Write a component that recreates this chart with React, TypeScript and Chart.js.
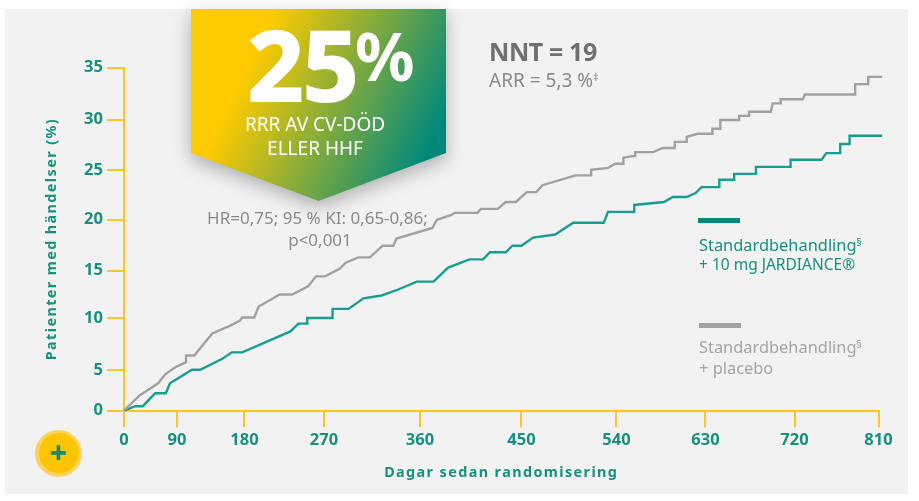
import React, { useEffect, useRef } from "react";
import { Chart, LinearScale, LineController, LineElement, PointElement } from "chart.js";

const xTicks = [0, 90, 180, 270, 360, 450, 540, 630, 720, 810];
const yTicks = [0, 5, 10, 15, 20, 25, 30, 35];

const jardianceDays = [0, 19, 32, 53, 71, 78, 110, 121, 151, 163, 177, 232, 241, 251, 251, 278, 278, 293, 307, 324, 339, 357, 372, 385, 404, 416, 422, 436, 442, 450, 461, 482, 499, 528, 532, 558, 558, 588, 597, 611, 620, 626, 644, 644, 659, 659, 681, 681, 716, 716, 749, 754, 769, 769, 779, 779, 814];
const jardianceValues = [0, 0.55, 0.55, 2.13, 2.13, 3.35, 5, 5, 6.1, 6.7, 6.7, 8.74, 9.5, 9.5, 10.05, 10.05, 11, 11, 12.1, 12.4, 13, 13.85, 13.85, 15.3, 16.1, 16.1, 16.8, 16.8, 17.45, 17.45, 18.25, 18.55, 19.7, 19.7, 20.8, 20.8, 21.5, 21.8, 22.3, 22.3, 22.7, 23.3, 23.3, 24.05, 24.05, 24.65, 24.65, 25.35, 25.35, 26.05, 26.05, 26.7, 26.7, 27.6, 27.6, 28.4, 28.4];

const placeboDays = [0, 27, 58, 70, 87, 102, 102, 113, 137, 161, 174, 177, 191, 196, 220, 234, 252, 261, 271, 285, 290, 302, 313, 325, 335, 338, 371, 375, 388, 391, 411, 414, 429, 436, 445, 455, 464, 470, 501, 516, 516, 532, 539, 547, 547, 559, 559, 577, 587, 599, 599, 611, 611, 622, 637, 637, 645, 645, 664, 664, 674, 674, 696, 698, 706, 706, 729, 731, 785, 785, 799, 799, 814];
const placeboValues = [0, 1.89, 3.35, 4.45, 5.25, 5.75, 6.4, 6.4, 8.55, 9.3, 9.8, 10.1, 10.1, 11.25, 12.5, 12.5, 13.35, 14.4, 14.4, 15.2, 15.75, 16.3, 16.3, 17.45, 17.45, 18.15, 19.2, 20, 20.5, 20.7, 20.7, 21.1, 21.1, 21.8, 21.8, 22.8, 22.8, 23.5, 24.5, 24.5, 25.05, 25.25, 25.65, 25.65, 26.25, 26.45, 26.8, 26.8, 27.2, 27.2, 27.8, 27.8, 28.3, 28.6, 28.6, 29.1, 29.1, 29.95, 29.95, 30.35, 30.35, 30.75, 30.75, 31.55, 31.55, 31.95, 31.95, 32.4, 32.4, 33.4, 33.4, 34.1, 34.1];

// The published axes are not evenly spaced: share of the axis length at each tick.
const xTickShares = [0, 0.0703, 0.1597, 0.2651, 0.3923, 0.5268, 0.6527, 0.7707, 0.8887, 1];
const yTickShares = [0, 0.1191, 0.2687, 0.4082, 0.5564, 0.7002, 0.8484, 1];

const TEAL = "#179e90";
const TEAL_TEXT = "#17907f";
const GRAY = "#a1a1a1";
const YELLOW = "#fdc71f";
const FONT = '"Noto Sans", sans-serif';

class KnotScale extends LinearScale {
  static id = "knot";
  static defaults = LinearScale.defaults;
  knots() {
    return this.isHorizontal() ? { v: xTicks, s: xTickShares } : { v: yTicks, s: yTickShares };
  }
  getPixelForValue(value: number) {
    const { v, s } = this.knots();
    let i = 0;
    while (i < v.length - 2 && value > v[i + 1]) i++;
    const share = s[i] + ((value - v[i]) / (v[i + 1] - v[i])) * (s[i + 1] - s[i]);
    return this.getPixelForDecimal(share);
  }
  getValueForPixel(pixel: number) {
    const { v, s } = this.knots();
    const share = this.getDecimalForPixel(pixel);
    let i = 0;
    while (i < s.length - 2 && share > s[i + 1]) i++;
    return v[i] + ((share - s[i]) / (s[i + 1] - s[i])) * (v[i + 1] - v[i]);
  }
  drawTitle() {
    const ctx = this.ctx as any;
    ctx.letterSpacing = "1.4px";
    super.drawTitle();
    ctx.letterSpacing = "0px";
  }
}

Chart.register(KnotScale, LineController, LineElement, PointElement);

function Text({ x, y, center, style, children }: any) {
  return (
    <div
      style={{
        position: "absolute",
        left: x,
        top: y,
        transform: center ? "translate(-50%,-50%)" : "translateY(-50%)",
        whiteSpace: "nowrap",
        fontFamily: FONT,
        lineHeight: 1,
        ...style,
      }}
    >
      {children}
    </div>
  );
}

export default function App() {
  const ref = useRef<HTMLCanvasElement>(null);
  useEffect(() => {
    const chart = new Chart(ref.current!, {
      type: "line",
      data: {
        datasets: [
          {
            label: "Standardbehandling + placebo",
            data: placeboDays.map((x, i) => ({ x, y: placeboValues[i] })),
            borderColor: GRAY,
            borderWidth: 2.4,
            pointRadius: 0,
            tension: 0,
            clip: false,
          },
          {
            label: "Standardbehandling + 10 mg JARDIANCE",
            data: jardianceDays.map((x, i) => ({ x, y: jardianceValues[i] })),
            borderColor: TEAL,
            borderWidth: 2.4,
            pointRadius: 0,
            tension: 0,
            clip: false,
          },
        ],
      },
      options: {
        animation: false,
        responsive: false,
        layout: { padding: { left: 43, top: 67.5, right: 40.5, bottom: 19 } },
        plugins: { legend: { display: false }, tooltip: { enabled: false } },
        scales: {
          x: {
            type: "knot",
            min: 0,
            max: 810,
            afterBuildTicks: (s: any) => {
              s.ticks = xTicks.map((value) => ({ value }));
            },
            afterFit: (s: any) => {
              s.height = 501 - 410.7 - 19;
            },
            border: { color: YELLOW, width: 2 },
            grid: { drawOnChartArea: false, drawTicks: true, tickLength: 16.5, color: YELLOW, lineWidth: 2 },
            ticks: {
              autoSkip: false,
              maxRotation: 0,
              color: TEAL_TEXT,
              padding: 3,
              font: { family: FONT, size: 16.5, weight: "bold" },
            },
            title: {
              display: true,
              text: "Dagar sedan randomisering",
              color: TEAL_TEXT,
              padding: { top: 0, bottom: 0 },
              font: { family: FONT, size: 14.4, weight: "bold" },
            },
          } as any,
          y: {
            type: "knot",
            min: 0,
            max: 35,
            afterBuildTicks: (s: any) => {
              s.ticks = yTicks.map((value) => ({ value }));
            },
            afterFit: (s: any) => {
              s.width = 124 - 43;
            },
            border: { color: YELLOW, width: 2 },
            grid: { drawOnChartArea: false, drawTicks: true, tickLength: 17, color: YELLOW, lineWidth: 2 },
            ticks: {
              autoSkip: false,
              color: TEAL_TEXT,
              padding: 4,
              font: { family: FONT, size: 16.5, weight: "bold" },
            },
            title: {
              display: true,
              text: "Patienter med händelser (%)",
              color: TEAL_TEXT,
              padding: { top: 0, bottom: 0 },
              font: { family: FONT, size: 14.4, weight: "bold" },
            },
          } as any,
        },
      },
    });
    return () => chart.destroy();
  }, []);

  return (
    <div style={{ position: "absolute", left: 0, top: 0, width: 919, height: 501, overflow: "hidden", background: "#fff" }}>
      <div style={{ position: "absolute", left: 5, top: 9, width: 902.5, height: 485, background: "#f2f2f2" }} />
      <canvas ref={ref} width={919} height={501} style={{ position: "absolute", left: 0, top: 0, width: 919, height: 501 }} />

      <div style={{ position: "absolute", left: 191, top: 9, width: 255, height: 192, filter: "drop-shadow(0 6px 9px rgba(0,0,0,.28))" }}>
        <div
          style={{
            width: "100%",
            height: "100%",
            clipPath: "polygon(0 0, 100% 0, 100% 144px, 50% 100%, 0 144px)",
            background: "linear-gradient(115deg,#ffcb00 24%,#00897b 88%)",
          }}
        />
      </div>
      <Text x={247} y={63} style={{ color: "#fff", fontSize: 100, fontWeight: 800, letterSpacing: -3 }}>25</Text>
      <Text x={355} y={55} style={{ color: "#fff", fontSize: 66, fontWeight: 700 }}>%</Text>
      <Text x={315} y={124} center style={{ color: "#fff", fontSize: 19 }}>RRR AV CV-DÖD</Text>
      <Text x={315} y={148} center style={{ color: "#fff", fontSize: 19 }}>ELLER HHF</Text>

      <Text x={489} y={51} style={{ color: "#6f6f6f", fontSize: 25, fontWeight: 700, letterSpacing: -0.4 }}>NNT = 19</Text>
      <Text x={489} y={80} style={{ color: "#8a8a8a", fontSize: 19 }}>ARR = 5,3 %<sup style={{ fontSize: 11, verticalAlign: "6px", lineHeight: 0 }}>‡</sup></Text>

      <Text x={317.5} y={217} center style={{ color: "#8a8a8a", fontSize: 17 }}>HR=0,75; 95 % KI: 0,65-0,86;</Text>
      <Text x={320} y={239} center style={{ color: "#8a8a8a", fontSize: 17 }}>p&lt;0,001</Text>

      <div style={{ position: "absolute", left: 698, top: 218, width: 42, height: 5, background: "#00897b" }} />
      <Text x={699} y={245} style={{ color: TEAL_TEXT, fontSize: 16.4 }}>Standardbehandling<sup style={{ fontSize: 10, verticalAlign: "5px", lineHeight: 0 }}>§</sup></Text>
      <Text x={699} y={265} style={{ color: TEAL_TEXT, fontSize: 15.5 }}>+ 10 mg JARDIANCE®</Text>

      <div style={{ position: "absolute", left: 699, top: 323, width: 42, height: 5, background: "#a3a3a3" }} />
      <Text x={699} y={347} style={{ color: "#a5a5a5", fontSize: 16.4 }}>Standardbehandling<sup style={{ fontSize: 10, verticalAlign: "5px", lineHeight: 0 }}>§</sup></Text>
      <Text x={699} y={368} style={{ color: "#a5a5a5", fontSize: 16.4 }}>+ placebo</Text>

      <div style={{ position: "absolute", left: 35, top: 429.5, width: 47, height: 47, borderRadius: "50%", background: "#fbd35c" }} />
      <div style={{ position: "absolute", left: 38.5, top: 433, width: 40, height: 40, borderRadius: "50%", background: "#fdc400" }} />
      <Text x={58.5} y={452} center style={{ color: "#0f8a78", fontSize: 30, fontWeight: 800 }}>+</Text>
    </div>
  );
}
